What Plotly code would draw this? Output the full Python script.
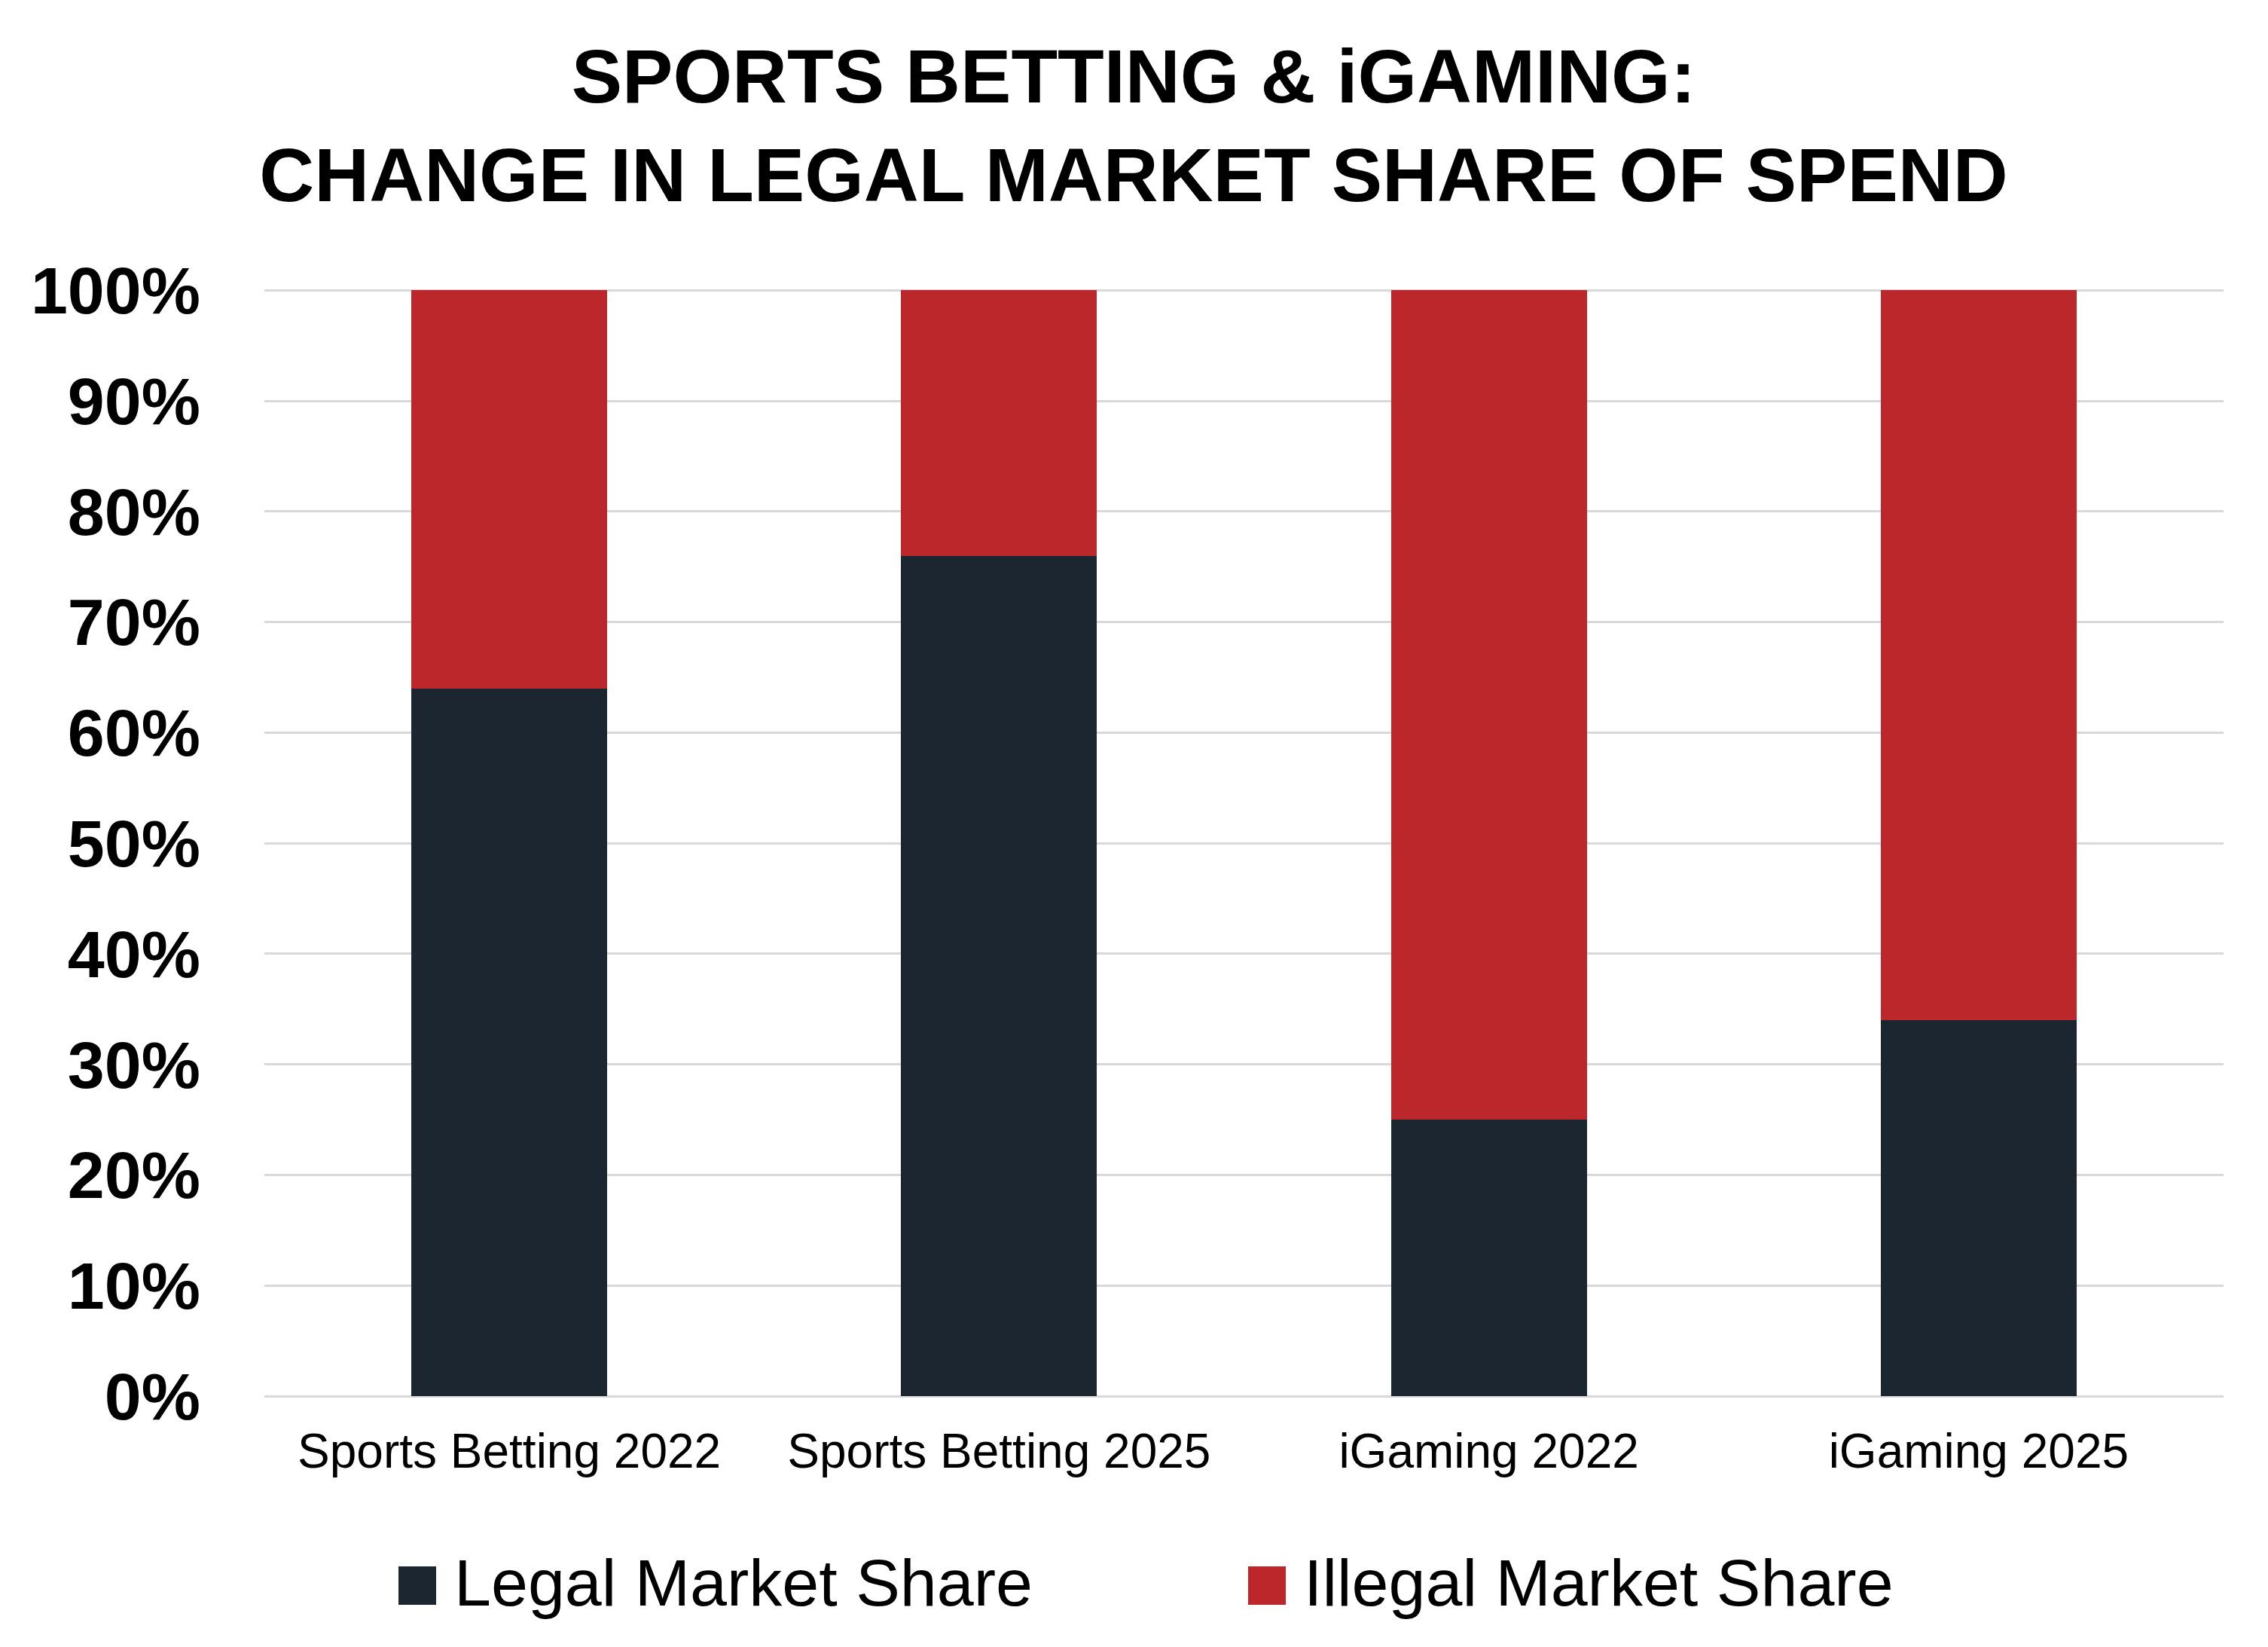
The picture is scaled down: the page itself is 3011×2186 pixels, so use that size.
import plotly.graph_objects as go

# dados
categorias = ["Sports Betting 2022", "Sports Betting 2025", "iGaming 2022", "iGaming 2025"]
legal = [64, 76, 25, 34]
ilegal = [36, 24, 75, 66]
nomes_series = ["Legal Market Share", "Illegal Market Share"]
cores = ["#1B2631", "#BB272B"]
ticks_y = [0, 10, 20, 30, 40, 50, 60, 70, 80, 90, 100]
rotulos_y = [f"{v}%" for v in ticks_y]

titulo = "SPORTS BETTING & iGAMING:<br>CHANGE IN LEGAL MARKET SHARE OF SPEND"

fonte = "Liberation Sans, Arial, sans-serif"
W, H = 3011, 2186
margem = dict(l=351, r=59, t=381, b=333)

fig = go.Figure()
for nome, valores, cor in zip(nomes_series, [legal, ilegal], cores):
    fig.add_bar(x=categorias, y=valores, name=nome, marker_color=cor,
                marker_line_width=0, showlegend=False)

# legenda feita à mão (quadrados grandes como no original)
larg_plot = W - margem["l"] - margem["r"]
alt_plot = H - margem["t"] - margem["b"]
def px_x(p):  # pixel -> paper
    return (p - margem["l"]) / larg_plot
def px_y(p):
    return (H - margem["b"] - p) / alt_plot

pos_legenda = [529, 1657]   # inicio de cada item (px)
for nome, cor, x0 in zip(nomes_series, cores, pos_legenda):
    fig.add_shape(type="rect", xref="paper", yref="paper",
                  x0=px_x(x0), x1=px_x(x0 + 50), y0=px_y(2130), y1=px_y(2079),
                  fillcolor=cor, line_width=0)
    fig.add_annotation(xref="paper", yref="paper", x=px_x(x0 + 72), y=px_y(2100),
                       xanchor="left", yanchor="middle", showarrow=False,
                       text=nome, font=dict(family=fonte, size=88, color="black"))

fig.update_layout(
    width=W, height=H,
    barmode="stack", bargap=0.6,
    plot_bgcolor="white", paper_bgcolor="white",
    margin=dict(margem, pad=0),
    title=dict(text=titulo, x=(1505 - margem["l"]) / larg_plot, xanchor="center", xref="paper",
               y=1 - 136 / H, yanchor="middle", yref="container",
               font=dict(family=fonte, size=101, color="black", weight="bold")),
    font=dict(family=fonte, color="black"),
)
fig.update_yaxes(range=[0, 100.3], tickvals=ticks_y, ticktext=rotulos_y,
                 showgrid=True, gridcolor="#D9D9D9", gridwidth=3,
                 zeroline=True, zerolinecolor="#D9D9D9", zerolinewidth=3,
                 showline=False, ticks="", ticklabelstandoff=84,
                 tickfont=dict(family=fonte, size=88, color="black", weight="bold"))
fig.update_xaxes(showgrid=False, showline=False, ticks="", ticklabelstandoff=30,
                 tickfont=dict(family=fonte, size=64, color="black"))

fig.write_html("out.html", config={"displayModeBar": False},
               post_script="document.body.style.margin='0';")
